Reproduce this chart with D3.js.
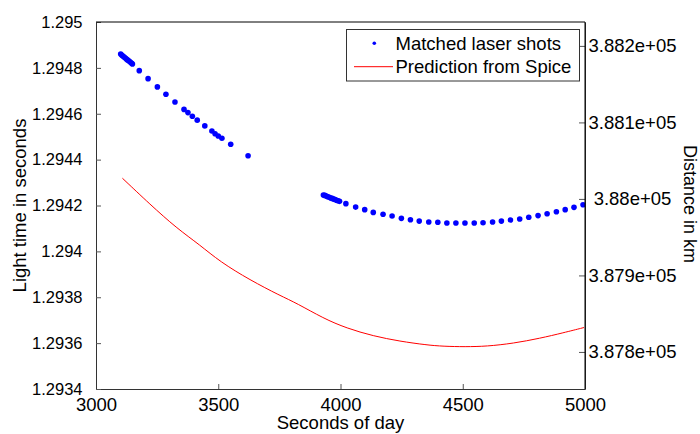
<!DOCTYPE html>
<html>
<head>
<meta charset="utf-8">
<script src="https://cdn.jsdelivr.net/npm/d3@7"></script>
<style>
  html, body { margin: 0; padding: 0; background: #fff; }
  svg { display: block; font-family: "Liberation Sans", Arial, sans-serif; }
</style>
</head>
<body>
<svg id="chart" width="700" height="434"></svg>
<script>
// ---------------- data ----------------
const shotSeconds = [3101,3106,3111,3116,3121,3126,3131,3136,3141,3146,3149,
  3177,3213,3251,3286,3323,3360,3376,3394,3414,3445,3474,3487,3500,3515,3551,3622,
  3930,3936,3942,3948,3954,3960,3966,3972,3978,3984,3990,3996,
  4022,4062,4099,4134,4174,4211,4249,4286,4322,4361,4398,4435,4472,4509,4547,4583,
  4622,4658,4695,4733,4770,4808,4845,4883,4919,4955,4992];
const shotLightTime = [1.294860,1.294855,1.294851,1.294846,1.294842,1.294837,1.294833,1.294829,1.294824,1.294820,1.294817,
  1.294788,1.294753,1.294717,1.294685,1.294651,1.294619,1.294605,1.294589,1.294572,1.294547,1.294525,1.294513,1.294503,1.294493,1.294467,1.294417,
  1.294246,1.294244,1.294241,1.294238,1.294236,1.294233,1.294231,1.294228,1.294226,1.294223,1.294221,1.294218,
  1.294208,1.294193,1.294182,1.294170,1.294162,1.294154,1.294144,1.294138,1.294132,1.294128,1.294127,1.294124,1.294124,1.294124,1.294124,1.294125,
  1.294128,1.294132,1.294137,1.294141,1.294149,1.294156,1.294164,1.294173,1.294182,1.294192,1.294203];

const spiceSeconds = [3108,3221,3330,3425,3507,3630,3753,3821,3930,4025,4134,4243,4352,4420,4510,4598,4707,4816,4911,4996];
const spiceLightTime = [1.294319,1.294205,1.294101,1.294028,1.293955,1.293875,1.293807,1.293774,1.293708,1.293665,1.293631,1.293608,1.293592,1.293586,1.293584,1.293586,1.293599,1.293621,1.293645,1.293668];

const xTicks = [3000, 3500, 4000, 4500, 5000];
const xTickLabels = ["3000", "3500", "4000", "4500", "5000"];
const leftTicks = [1.2934, 1.2936, 1.2938, 1.294, 1.2942, 1.2944, 1.2946, 1.2948, 1.295];
const leftTickLabels = ["1.2934", "1.2936", "1.2938", "1.294", "1.2942", "1.2944", "1.2946", "1.2948", "1.295"];
const rightTicks = [387800, 387900, 388000, 388100, 388200];
const rightTickLabels = ["3.878e+05", "3.879e+05", "3.88e+05", "3.881e+05", "3.882e+05"];
const legendLabels = ["Matched laser shots", "Prediction from Spice"];
const SPEED_OF_LIGHT = 299792.458; // km/s

// ---------------- layout ----------------
const svg = d3.select("#chart");
const L = 96, R = 585, T = 22, B = 389;

const x = d3.scaleLinear().domain([3000, 5000]).range([L, R]);
const yL = d3.scaleLinear().domain([1.2934, 1.295]).range([B, T]);
const yR = d3.scaleLinear().domain([1.2934 * SPEED_OF_LIGHT, 1.295 * SPEED_OF_LIGHT]).range([B, T]);

svg.append("rect").attr("x", L).attr("y", T).attr("width", R - L).attr("height", B - T)
  .attr("fill", "#fff").attr("stroke", "none");

// red prediction line
const spice = spiceSeconds.map((s, i) => [s, spiceLightTime[i]]);
svg.append("path")
  .datum(spice)
  .attr("fill", "none")
  .attr("stroke", "#ff0000")
  .attr("stroke-width", 1)
  .attr("d", d3.line().x(d => x(d[0])).y(d => yL(d[1])).curve(d3.curveBasis));

// blue dots
const shots = shotSeconds.map((s, i) => [s, shotLightTime[i]]);
svg.append("g").selectAll("circle").data(shots).join("circle")
  .attr("cx", d => x(d[0])).attr("cy", d => yL(d[1]))
  .attr("r", 2.8).attr("fill", "#0000ff");

// axes
const axisColor = "#333";
const xAxis = svg.append("g").attr("transform", `translate(0,${B})`)
  .call(d3.axisBottom(x).tickValues(xTicks).tickFormat((d, i) => xTickLabels[i])
    .tickSizeInner(-5).tickSizeOuter(0).tickPadding(8.5));
const leftAxis = svg.append("g").attr("transform", `translate(${L},0)`)
  .call(d3.axisLeft(yL).tickValues(leftTicks).tickFormat((d, i) => leftTickLabels[i])
    .tickSizeInner(-5).tickSizeOuter(0).tickPadding(13.5));
const rightAxis = svg.append("g").attr("transform", `translate(${R},0)`)
  .call(d3.axisRight(yR).tickValues(rightTicks).tickFormat((d, i) => rightTickLabels[i])
    .tickSizeInner(-6).tickSizeOuter(0));

[xAxis, leftAxis, rightAxis].forEach(g => {
  g.select(".domain").attr("stroke", axisColor);
  g.selectAll(".tick line").attr("stroke", "#555");
  g.selectAll("text").attr("fill", "#000").style("font-family", '"Liberation Sans", Arial, sans-serif');
});
xAxis.selectAll("text").style("font-size", "18.5px");
leftAxis.selectAll("text").style("font-size", "16.5px");
rightAxis.selectAll("text").style("font-size", "18.5px")
  .attr("x", 47.5).attr("text-anchor", "middle");

// top and right border
svg.append("line").attr("x1", L).attr("x2", R).attr("y1", T).attr("y2", T)
  .attr("stroke", "#000");
svg.append("line").attr("x1", R).attr("x2", R).attr("y1", T).attr("y2", B)
  .attr("stroke", "#000");

// axis titles
svg.append("text").attr("x", 340.5).attr("y", 429).attr("text-anchor", "middle")
  .style("font-size", "18.5px").text("Seconds of day");
svg.append("text").attr("transform", "translate(25.5,205.5) rotate(-90)")
  .attr("text-anchor", "middle").style("font-size", "18.5px").text("Light time in seconds");
svg.append("text").attr("transform", "translate(683.5,204) rotate(90)")
  .attr("text-anchor", "middle").style("font-size", "18px").text("Distance in km");

// legend
const lg = svg.append("g");
lg.append("rect").attr("x", 346.5).attr("y", 29.5).attr("width", 233).attr("height", 51.5)
  .attr("fill", "#fff").attr("stroke", "#333");
lg.append("circle").attr("cx", 374.3).attr("cy", 43.3).attr("r", 1.8).attr("fill", "#0000ff");
lg.append("line").attr("x1", 354).attr("x2", 393).attr("y1", 66.7).attr("y2", 66.7)
  .attr("stroke", "#ff0000").attr("stroke-width", 1);
lg.selectAll("text.lgt").data(legendLabels).join("text").attr("class", "lgt")
  .attr("x", 395.5).attr("y", (d, i) => i === 0 ? 49.5 : 73.3)
  .style("font-size", "18.5px").text(d => d);
</script>
</body>
</html>
